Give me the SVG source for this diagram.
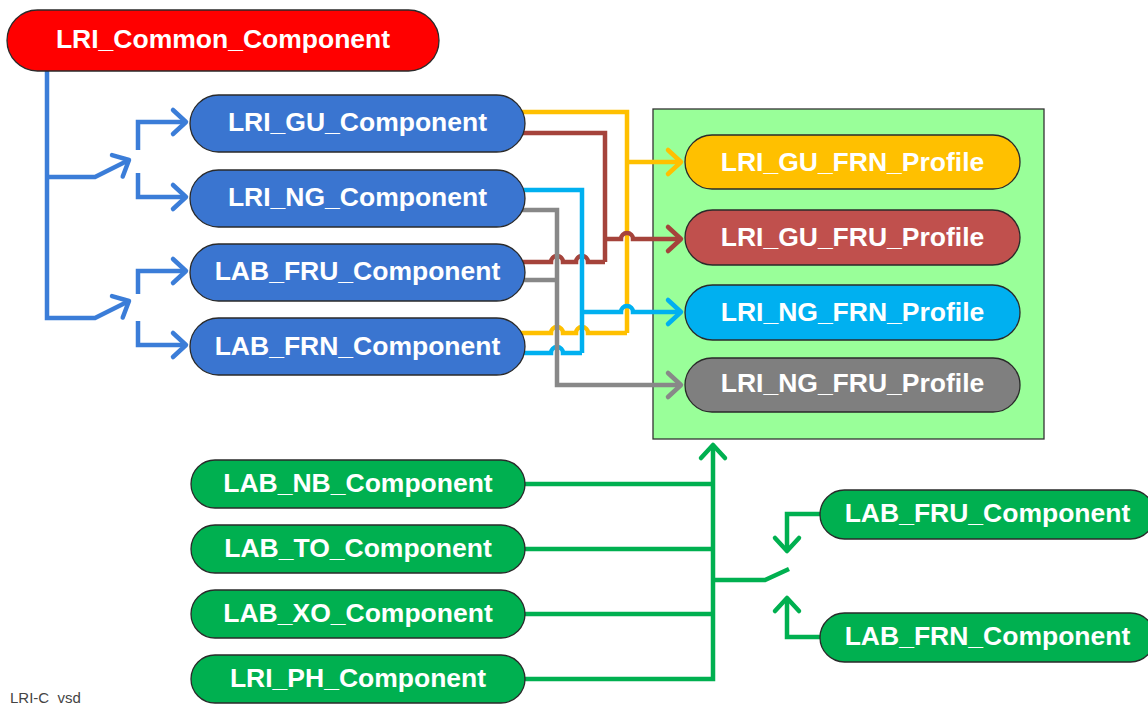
<svg xmlns="http://www.w3.org/2000/svg" width="1148" height="704" viewBox="0 0 1148 704">
  <style>
    .node { stroke: #2a2a2a; stroke-width: 1.3; }
    .lbl { font-family: "Liberation Sans", Arial, sans-serif; font-weight: bold; font-size: 26.5px; fill: #ffffff; text-anchor: middle; }
    .wire { fill: none; stroke-width: 4.5; stroke-linejoin: miter; }
    .blue { stroke: #3b7dd8; }
    .yellow { stroke: #ffc000; }
    .brown { stroke: #a5433b; }
    .cyan { stroke: #00b0f0; }
    .gray { stroke: #888888; }
    .green { stroke: #00b050; }
    .caption { font-family: "Liberation Sans", Arial, sans-serif; font-size: 15px; fill: #444444; }
  </style>
  <defs>
    <marker id="arrBlue" markerUnits="userSpaceOnUse" orient="auto" viewBox="-16 -14 20 28" markerWidth="20" markerHeight="28" refX="0" refY="0" overflow="visible">
      <path d="M-13,-12 L0,0 L-13,12" fill="none" stroke="#3b7dd8" stroke-width="4.5" stroke-linecap="round" stroke-linejoin="round"/>
    </marker>
    <marker id="arrYellow" markerUnits="userSpaceOnUse" orient="auto" viewBox="-16 -14 20 28" markerWidth="20" markerHeight="28" refX="0" refY="0" overflow="visible">
      <path d="M-13,-12 L0,0 L-13,12" fill="none" stroke="#ffc000" stroke-width="4.5" stroke-linecap="round" stroke-linejoin="round"/>
    </marker>
    <marker id="arrBrown" markerUnits="userSpaceOnUse" orient="auto" viewBox="-16 -14 20 28" markerWidth="20" markerHeight="28" refX="0" refY="0" overflow="visible">
      <path d="M-13,-12 L0,0 L-13,12" fill="none" stroke="#a5433b" stroke-width="4.5" stroke-linecap="round" stroke-linejoin="round"/>
    </marker>
    <marker id="arrCyan" markerUnits="userSpaceOnUse" orient="auto" viewBox="-16 -14 20 28" markerWidth="20" markerHeight="28" refX="0" refY="0" overflow="visible">
      <path d="M-13,-12 L0,0 L-13,12" fill="none" stroke="#00b0f0" stroke-width="4.5" stroke-linecap="round" stroke-linejoin="round"/>
    </marker>
    <marker id="arrGray" markerUnits="userSpaceOnUse" orient="auto" viewBox="-16 -14 20 28" markerWidth="20" markerHeight="28" refX="0" refY="0" overflow="visible">
      <path d="M-13,-12 L0,0 L-13,12" fill="none" stroke="#888888" stroke-width="4.5" stroke-linecap="round" stroke-linejoin="round"/>
    </marker>
    <marker id="arrGreen" markerUnits="userSpaceOnUse" orient="auto" viewBox="-16 -14 20 28" markerWidth="20" markerHeight="28" refX="0" refY="0" overflow="visible">
      <path d="M-13,-12 L0,0 L-13,12" fill="none" stroke="#00b050" stroke-width="4.5" stroke-linecap="round" stroke-linejoin="round"/>
    </marker>
  </defs>

  <rect width="1148" height="704" fill="#ffffff"/>

  <!-- profile container -->
  <g id="profile-area">
    <rect x="653" y="109" width="391" height="330" fill="#99ff99" stroke="#333333" stroke-width="1.3"/>
  </g>

  <g id="connectors">
    <!-- common component fan-out -->
    <path class="wire blue" d="M47,70 V318 H95 L129,301" marker-end="url(#arrBlue)"/>
    <path class="wire blue" d="M47,177 H95 L129,160" marker-end="url(#arrBlue)"/>
    <path class="wire blue" d="M138,150 V122 H186" marker-end="url(#arrBlue)"/>
    <path class="wire blue" d="M138,173 V197 H186" marker-end="url(#arrBlue)"/>
    <path class="wire blue" d="M138,294 V271 H186" marker-end="url(#arrBlue)"/>
    <path class="wire blue" d="M138,321 V345 H186" marker-end="url(#arrBlue)"/>

    <!-- GU FRN -->
    <path class="wire yellow" d="M515,112 H627 V333"/>
    <path class="wire yellow" d="M515,333 H551 a6,6 0 0 1 12,0 H576 a6,6 0 0 1 12,0 H627"/>
    <path class="wire yellow" d="M627,162 H681" marker-end="url(#arrYellow)"/>

    <!-- GU FRU -->
    <path class="wire brown" d="M515,133 H605 V262"/>
    <path class="wire brown" d="M515,262 H551 a6,6 0 0 1 12,0 H576 a6,6 0 0 1 12,0 H605"/>
    <path class="wire brown" d="M605,239 H621 a6,6 0 0 1 12,0 H681" marker-end="url(#arrBrown)"/>

    <!-- NG FRN -->
    <path class="wire cyan" d="M515,190 H582 V353"/>
    <path class="wire cyan" d="M515,353 H551 a6,6 0 0 1 12,0 H582"/>
    <path class="wire cyan" d="M582,312 H621 a6,6 0 0 1 12,0 H681" marker-end="url(#arrCyan)"/>

    <!-- NG FRU -->
    <path class="wire gray" d="M515,210 H557 V385 H681" marker-end="url(#arrGray)"/>
    <path class="wire gray" d="M515,280 H557"/>

    <!-- shared bus into profiles -->
    <path class="wire green" d="M515,679 H713 V445" marker-end="url(#arrGreen)"/>
    <path class="wire green" d="M515,484 H713"/>
    <path class="wire green" d="M515,549 H713"/>
    <path class="wire green" d="M515,614 H713"/>
    <path class="wire green" d="M713,580 H765 L789,569"/>
    <path class="wire green" d="M830,514 H787 V551" marker-end="url(#arrGreen)"/>
    <path class="wire green" d="M830,637 H787 V598" marker-end="url(#arrGreen)"/>
  </g>

  <g id="LRI_Common_Component">
    <rect class="node" x="7" y="10" width="432" height="61" rx="30.5" fill="#ff0000"/>
    <text class="lbl" x="223" y="48">LRI_Common_Component</text>
  </g>

  <g id="LRI_GU_Component">
    <rect class="node" x="190" y="95" width="335" height="57" rx="28.5" fill="#3a75d0"/>
    <text class="lbl" x="357.5" y="131">LRI_GU_Component</text>
  </g>
  <g id="LRI_NG_Component">
    <rect class="node" x="190" y="170" width="335" height="57" rx="28.5" fill="#3a75d0"/>
    <text class="lbl" x="357.5" y="206">LRI_NG_Component</text>
  </g>
  <g id="LAB_FRU_Component">
    <rect class="node" x="190" y="244" width="335" height="57" rx="28.5" fill="#3a75d0"/>
    <text class="lbl" x="357.5" y="280">LAB_FRU_Component</text>
  </g>
  <g id="LAB_FRN_Component">
    <rect class="node" x="190" y="318" width="335" height="57" rx="28.5" fill="#3a75d0"/>
    <text class="lbl" x="357.5" y="355">LAB_FRN_Component</text>
  </g>

  <g id="LRI_GU_FRN_Profile">
    <rect class="node" x="685" y="135" width="335" height="54" rx="27" fill="#ffc000"/>
    <text class="lbl" x="852.5" y="170.5">LRI_GU_FRN_Profile</text>
  </g>
  <g id="LRI_GU_FRU_Profile">
    <rect class="node" x="685" y="210" width="335" height="55" rx="27.5" fill="#c0504d"/>
    <text class="lbl" x="852.5" y="245.5">LRI_GU_FRU_Profile</text>
  </g>
  <g id="LRI_NG_FRN_Profile">
    <rect class="node" x="685" y="285" width="335" height="55" rx="27.5" fill="#00b0f0"/>
    <text class="lbl" x="852.5" y="320.5">LRI_NG_FRN_Profile</text>
  </g>
  <g id="LRI_NG_FRU_Profile">
    <rect class="node" x="685" y="358" width="335" height="54" rx="27" fill="#7f7f7f"/>
    <text class="lbl" x="852.5" y="392">LRI_NG_FRU_Profile</text>
  </g>

  <g id="LAB_NB_Component">
    <rect class="node" x="191" y="460" width="334" height="48" rx="24" fill="#00b050"/>
    <text class="lbl" x="358" y="492">LAB_NB_Component</text>
  </g>
  <g id="LAB_TO_Component">
    <rect class="node" x="191" y="525" width="334" height="48" rx="24" fill="#00b050"/>
    <text class="lbl" x="358" y="557">LAB_TO_Component</text>
  </g>
  <g id="LAB_XO_Component">
    <rect class="node" x="191" y="590" width="334" height="48" rx="24" fill="#00b050"/>
    <text class="lbl" x="358" y="622">LAB_XO_Component</text>
  </g>
  <g id="LRI_PH_Component">
    <rect class="node" x="191" y="655" width="334" height="48" rx="24" fill="#00b050"/>
    <text class="lbl" x="358" y="687">LRI_PH_Component</text>
  </g>

  <g id="LAB_FRU_Component_alt">
    <rect class="node" x="820" y="490" width="335" height="49" rx="24.5" fill="#00b050"/>
    <text class="lbl" x="987.5" y="522">LAB_FRU_Component</text>
  </g>
  <g id="LAB_FRN_Component_alt">
    <rect class="node" x="820" y="613" width="335" height="49" rx="24.5" fill="#00b050"/>
    <text class="lbl" x="987.5" y="645">LAB_FRN_Component</text>
  </g>

  <text class="caption" x="10" y="703">LRI-C_vsd</text>
</svg>
